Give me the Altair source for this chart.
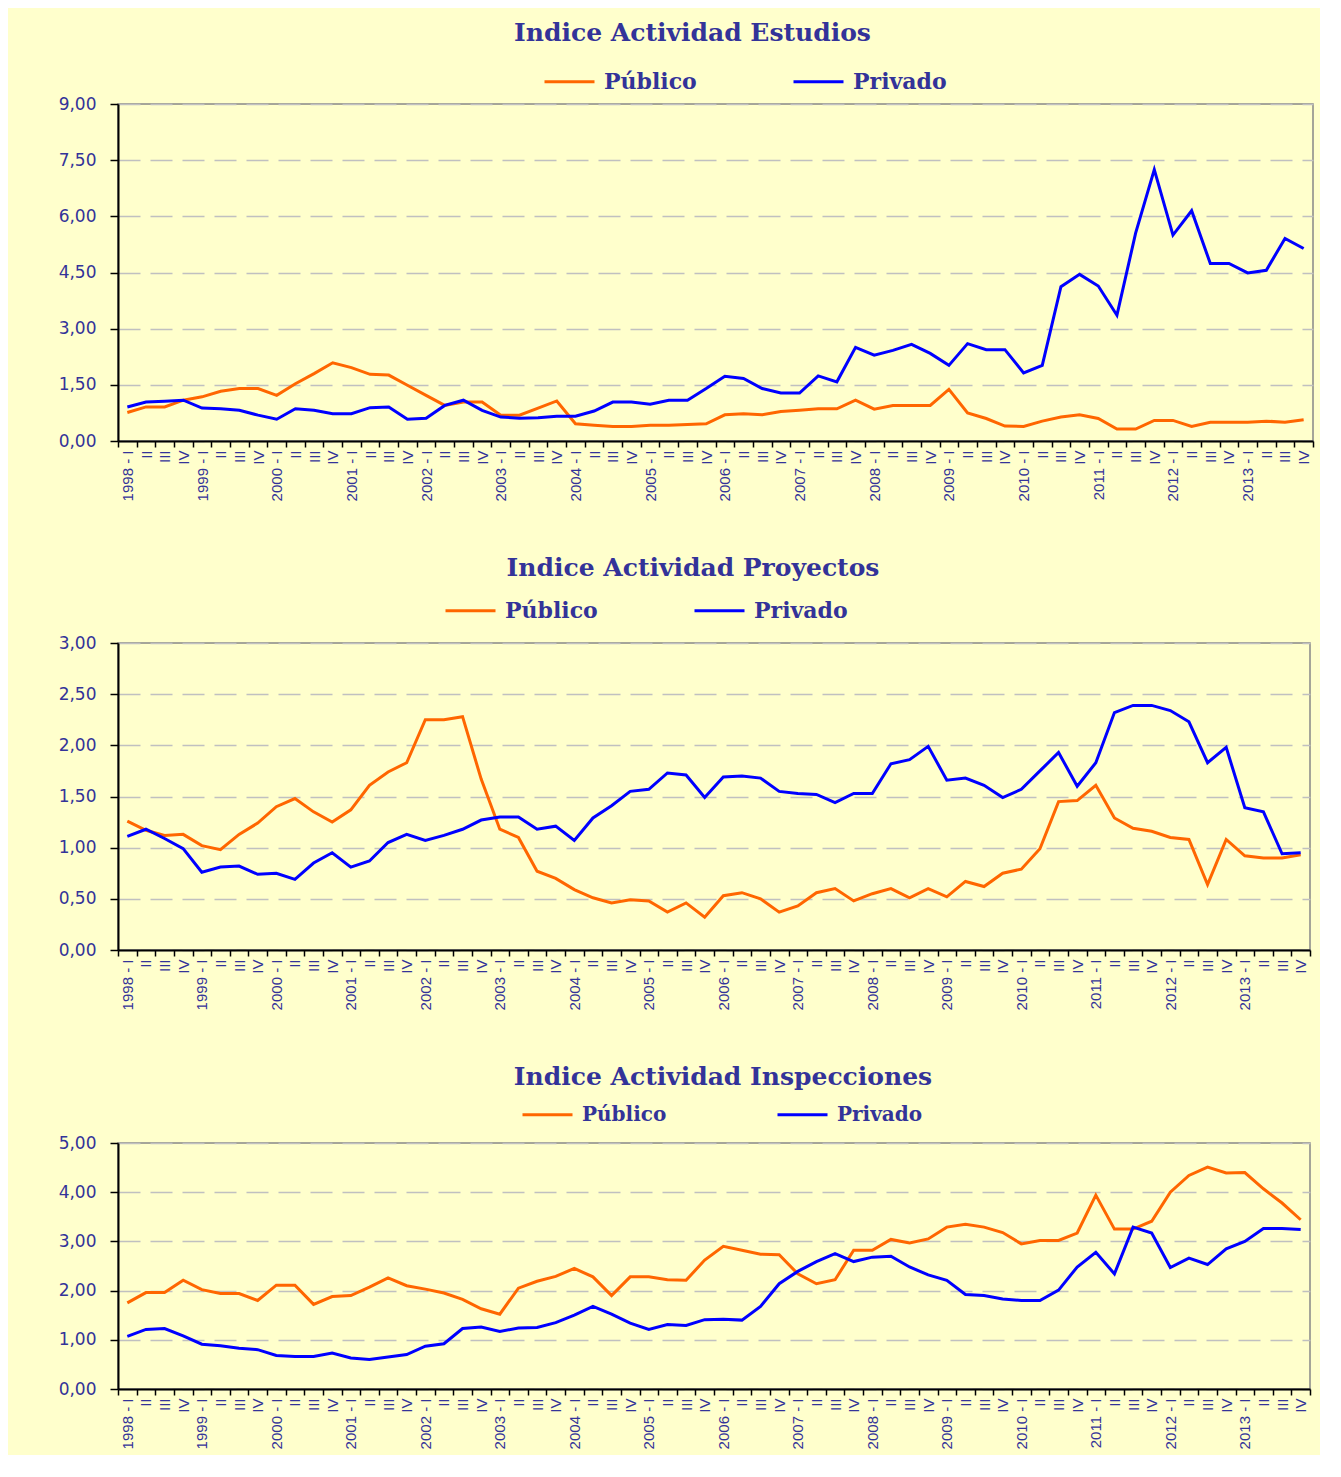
import altair as alt
import pandas as pd

years = list(range(1998, 2014))
quarter_names = ["I", "II", "III", "IV"]
periods = [f"{y} - {q}" for y in years for q in quarter_names]

series_names = ["Público", "Privado"]
series_colors = ["#FF6600", "#0000FF"]

estudios_publico = [0.76, 0.91, 0.91, 1.09, 1.18, 1.33, 1.40, 1.40, 1.22, 1.53, 1.80, 2.09, 1.96, 1.78, 1.76, 1.49,
                    1.22, 0.95, 1.04, 1.04, 0.69, 0.69, 0.88, 1.07, 0.46, 0.42, 0.39, 0.39, 0.42, 0.42, 0.44, 0.46,
                    0.70, 0.73, 0.70, 0.79, 0.82, 0.86, 0.86, 1.09, 0.85, 0.95, 0.95, 0.95, 1.38, 0.75, 0.60, 0.40,
                    0.39, 0.53, 0.64, 0.70, 0.60, 0.32, 0.32, 0.55, 0.55, 0.39, 0.50, 0.50, 0.50, 0.53, 0.50, 0.57]
estudios_privado = [0.91, 1.04, 1.06, 1.09, 0.88, 0.86, 0.82, 0.69, 0.58, 0.86, 0.82, 0.73, 0.73, 0.89, 0.91, 0.58,
                    0.61, 0.95, 1.09, 0.82, 0.64, 0.61, 0.62, 0.66, 0.66, 0.80, 1.04, 1.04, 0.98, 1.09, 1.09, 1.40,
                    1.73, 1.67, 1.40, 1.28, 1.28, 1.74, 1.58, 2.50, 2.29, 2.42, 2.58, 2.34, 2.02, 2.60, 2.44, 2.44,
                    1.82, 2.02, 4.12, 4.45, 4.14, 3.36, 5.55, 7.25, 5.50, 6.15, 4.74, 4.74, 4.49, 4.56, 5.41, 5.14]

proyectos_publico = [1.26, 1.17, 1.12, 1.13, 1.02, 0.98, 1.13, 1.24, 1.40, 1.48, 1.35, 1.25, 1.37, 1.61, 1.74, 1.83,
                     2.25, 2.25, 2.28, 1.67, 1.18, 1.10, 0.77, 0.70, 0.59, 0.51, 0.46, 0.49, 0.48, 0.37, 0.46, 0.32,
                     0.53, 0.56, 0.50, 0.37, 0.43, 0.56, 0.60, 0.48, 0.55, 0.60, 0.51, 0.60, 0.52, 0.67, 0.62, 0.75,
                     0.79, 0.99, 1.45, 1.46, 1.61, 1.29, 1.19, 1.16, 1.10, 1.08, 0.64, 1.08, 0.92, 0.90, 0.90, 0.93]
proyectos_privado = [1.11, 1.18, 1.09, 0.99, 0.76, 0.81, 0.82, 0.74, 0.75, 0.69, 0.85, 0.95, 0.81, 0.87, 1.05, 1.13,
                     1.07, 1.12, 1.18, 1.27, 1.30, 1.30, 1.18, 1.21, 1.07, 1.29, 1.41, 1.55, 1.57, 1.73, 1.71, 1.49,
                     1.69, 1.70, 1.68, 1.55, 1.53, 1.52, 1.44, 1.53, 1.53, 1.82, 1.86, 1.99, 1.66, 1.68, 1.61, 1.49,
                     1.57, 1.75, 1.93, 1.60, 1.83, 2.32, 2.39, 2.39, 2.34, 2.23, 1.83, 1.98, 1.39, 1.35, 0.94, 0.95]

inspecciones_publico = [1.75, 1.96, 1.96, 2.21, 2.02, 1.94, 1.94, 1.80, 2.11, 2.11, 1.72, 1.88, 1.90, 2.07, 2.26, 2.10,
                        2.03, 1.95, 1.82, 1.63, 1.52, 2.05, 2.19, 2.29, 2.45, 2.28, 1.90, 2.28, 2.28, 2.22, 2.21, 2.62,
                        2.90, 2.82, 2.74, 2.73, 2.34, 2.14, 2.22, 2.82, 2.82, 3.04, 2.97, 3.05, 3.29, 3.35, 3.29, 3.18,
                        2.95, 3.02, 3.02, 3.17, 3.94, 3.25, 3.25, 3.41, 4.00, 4.34, 4.51, 4.39, 4.40, 4.07, 3.78, 3.44]
inspecciones_privado = [1.07, 1.21, 1.23, 1.08, 0.91, 0.88, 0.83, 0.80, 0.68, 0.66, 0.66, 0.73, 0.63, 0.60, 0.65, 0.70,
                        0.87, 0.92, 1.23, 1.26, 1.17, 1.24, 1.25, 1.35, 1.50, 1.68, 1.52, 1.34, 1.21, 1.31, 1.29, 1.41,
                        1.42, 1.40, 1.68, 2.14, 2.39, 2.59, 2.75, 2.59, 2.68, 2.70, 2.48, 2.32, 2.21, 1.92, 1.90, 1.83,
                        1.80, 1.80, 2.01, 2.48, 2.78, 2.34, 3.29, 3.17, 2.47, 2.66, 2.53, 2.85, 3.00, 3.26, 3.26, 3.24]

titles = ["Indice Actividad Estudios", "Indice Actividad Proyectos", "Indice Actividad Inspecciones"]
y_ticks = [[0, 1.5, 3, 4.5, 6, 7.5, 9], [0, 0.5, 1, 1.5, 2, 2.5, 3], [0, 1, 2, 3, 4, 5]]

NAVY = "#333399"
BG = "#FFFFCC"


def make_df(pub, priv):
    rows = []
    for name, vals in zip(series_names, [pub, priv]):
        for p, v in zip(periods, vals):
            rows.append({"periodo": p, "serie": name, "valor": v})
    return pd.DataFrame(rows)


def panel(pub, priv, title, ticks, width, height, title_dx, title_off, leg_x, leg_y, leg_font, col_pad):
    df = make_df(pub, priv)
    return alt.Chart(df).mark_line(strokeWidth=3, clip=False).encode(
        x=alt.X("periodo:N", sort=periods, bandPosition=0.5,
                scale=alt.Scale(type="band", paddingInner=0, paddingOuter=0),
                axis=alt.Axis(title=None, labelAngle=270, labelAlign="right", labelBaseline="middle",
                              labelOverlap=False, labelFont="Liberation Sans", labelFontSize=15,
                              labelColor=NAVY, labelPadding=3, tickBand="extent", tickColor="black",
                              tickSize=6, tickWidth=1.5, domainColor="black", domainWidth=2, grid=False,
                              labelExpr="slice(datum.label, -4) == ' - I' ? datum.label : split(datum.label, ' - ')[1]")),
        y=alt.Y("valor:Q", scale=alt.Scale(domain=[ticks[0], ticks[-1]], nice=False),
                axis=alt.Axis(title=None, values=ticks, labelExpr="replace(format(datum.value, '.2f'), '.', ',')",
                              labelFont="DejaVu Sans", labelFontSize=17, labelColor=NAVY, labelPadding=14,
                              tickColor="black", tickSize=8, tickWidth=1.5, domainColor="black", domainWidth=2,
                              grid=True, gridColor="#C0C0C0", gridDash=[22, 10], gridWidth=1.5,
                              minExtent=109, maxExtent=109)),
        color=alt.Color("serie:N", sort=series_names,
                        scale=alt.Scale(domain=series_names, range=series_colors),
                        legend=alt.Legend(title=None, orient="none", legendX=leg_x, legendY=leg_y,
                                          direction="horizontal", symbolType="stroke", symbolSize=2500,
                                          symbolStrokeWidth=3, labelFont="DejaVu Serif", labelFontWeight="bold",
                                          labelFontSize=leg_font, labelColor=NAVY, labelOffset=8,
                                          columnPadding=col_pad)),
    ).properties(
        width=width, height=height,
        title=alt.TitleParams(text=title, font="DejaVu Serif", fontWeight="bold", fontSize=25, color=NAVY,
                              anchor="middle", frame="group", dx=title_dx, offset=title_off),
    )


p1 = panel(estudios_publico, estudios_privado, titles[0], y_ticks[0], 1195, 337, -23, 9, 425, -49, 22, 90)
p2 = panel(proyectos_publico, proyectos_privado, titles[1], y_ticks[1], 1192, 307, -21, 3, 326, -59, 22, 90)
p3 = panel(inspecciones_publico, inspecciones_privado, titles[2], y_ticks[2], 1192, 246, 9, -2, 403, -55, 20, 104)

chart = alt.vconcat(p1, p2, p3, spacing=53).resolve_scale(
    x="independent", y="independent", color="independent"
).properties(
    background=BG, padding={"left": 0, "top": 12, "right": 5, "bottom": 5}
).configure_view(
    fill=BG, stroke="#888888", strokeWidth=1.5
)

chart.save("out.html", embed_options={"renderer": "svg", "actions": False})
